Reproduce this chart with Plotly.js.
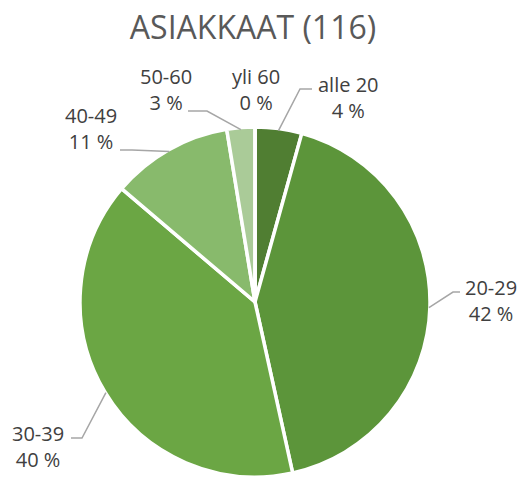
<!DOCTYPE html>
<html>
<head>
<meta charset="utf-8">
<script src="https://cdn.plot.ly/plotly-3.0.1.min.js"></script>
<style>html,body{margin:0;padding:0;background:#fff}#chart{width:523px;height:477px}</style>
</head>
<body>
<div id="chart"></div>
<script>
// Data
var categories = ["alle 20", "20-29", "30-39", "40-49", "50-60", "yli 60"];
var counts = [5, 49, 46, 13, 3, 0];
var percentLabels = ["4 %", "42 %", "40 %", "11 %", "3 %", "0 %"];
var colors = ["#507E32", "#5C953A", "#6BA644", "#88BA6C", "#AACB98", "#C5DDB8"];
var chartTitle = "ASIAKKAAT (116)";

// Layout settings (pixels)
var W = 523, H = 477;
var cx = 255, cy = 303, R = 176;
// label block centres and leader elbow/end points, per category
var labelPos = [[348, 97], [491, 300], [38, 446], [91, 128], [166, 89], [256, 89]];
var leaderElbow = [[300, 89], [453, 292], [82, 438], [132, 150], [207, 111], null];
var leaderEnd = [[312, 89], [460, 292], [71, 438], [120, 150], [188, 111], null];

function px(x) { return x / W; }
function py(y) { return 1 - y / H; }

var total = counts.reduce(function (a, b) { return a + b; }, 0);

var annotations = [];
var shapes = [];
var acc = 0;
for (var i = 0; i < categories.length; i++) {
  var frac = counts[i] / total;
  var mid = (acc + frac / 2) * 2 * Math.PI;
  acc += frac;
  annotations.push({
    xref: "paper", yref: "paper",
    x: px(labelPos[i][0]), y: py(labelPos[i][1]),
    xanchor: "center", yanchor: "middle",
    text: categories[i] + "<br>" + percentLabels[i],
    showarrow: false,
    font: {family: "Open Sans", size: 20, color: "#404040"}
  });
  if (leaderElbow[i]) {
    var rr = R - 2;
    var ax = cx + rr * Math.sin(mid), ay = cy - rr * Math.cos(mid);
    shapes.push({
      type: "path", xref: "paper", yref: "paper",
      path: "M " + px(ax) + "," + py(ay) + " L " + px(leaderElbow[i][0]) + "," + py(leaderElbow[i][1]) +
            " L " + px(leaderEnd[i][0]) + "," + py(leaderEnd[i][1]),
      line: {color: "#A6A6A6", width: 1.5}
    });
  }
}

var trace = {
  type: "pie",
  labels: categories,
  values: counts,
  sort: false,
  direction: "clockwise",
  rotation: 0,
  textinfo: "none",
  hoverinfo: "none",
  marker: {colors: colors, line: {color: "#ffffff", width: 3.5}},
  domain: {x: [px(cx - R), px(cx + R)], y: [0, py(cy - R)]},
  showlegend: false
};

var layout = {
  width: W, height: H,
  margin: {l: 0, r: 0, t: 0, b: 0},
  paper_bgcolor: "#ffffff",
  title: {
    text: chartTitle,
    x: px(253), xanchor: "center",
    y: py(28), yanchor: "middle",
    font: {family: "Open Sans", size: 32, color: "#595959"}
  },
  annotations: annotations,
  shapes: shapes,
  showlegend: false
};

Plotly.newPlot("chart", [trace], layout, {displayModeBar: false, staticPlot: true});
</script>
</body>
</html>
